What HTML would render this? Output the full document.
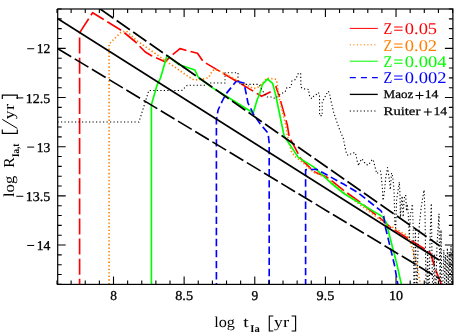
<!DOCTYPE html>
<html><head><meta charset="utf-8"><title>DTD</title>
<style>html,body{margin:0;padding:0;background:#fff;overflow:hidden}svg{display:block;will-change:transform}text{font-family:"Liberation Serif",serif;text-rendering:geometricPrecision}</style>
</head><body>
<svg width="463" height="334" viewBox="0 0 463 334">
<rect x="0" y="0" width="463" height="334" fill="#fff"/>
<defs><clipPath id="c"><rect x="57.7" y="9.0" width="395.2" height="275.4"/></clipPath></defs>
<g clip-path="url(#c)" fill="none" stroke-linejoin="round">
<polyline points="79.6,284.2 79.6,32.8" stroke="#ff0000" stroke-width="1.65" stroke-dasharray="16 4.1" stroke-dashoffset="10.6"/>
<polyline points="79.6,32.8 92.6,12.7 121.8,30.6 135.0,41.5 145.3,52.0 151.5,55.7 156.0,57.7 165.0,61.8 172.2,55.0 180.0,48.6 185.8,50.3 197.5,53.3 203.2,61.5 253.2,91.1" stroke="#ff0000" stroke-width="1.65" stroke-dasharray="16.2 4.15" stroke-dashoffset="19.85"/>
<polyline points="256.8,93.4 261.6,96.3 270.7,91.7" stroke="#ff0000" stroke-width="1.65"/>
<polyline points="275.8,86.0 279.6,97.6 287.3,125.0 289.2,136.7 297.7,152.8 299.6,157.4 309.3,167.1 314.1,171.8 325.7,176.4 332.8,181.6 343.9,190.6 359.0,201.3 380.0,218.0 390.2,227.1 400.0,233.4 424.6,249.0 429.0,251.6 430.6,253.8 435.8,270.2 441.8,285.5" stroke="#ff0000" stroke-width="1.65" stroke-dasharray="16 4.02" stroke-dashoffset="4.3"/>
<polyline points="109.1,284.2 109.1,44.0 121.0,32.3 126.3,31.0 136.7,40.6 146.3,47.3 189.0,77.0 194.0,80.0 203.1,79.1 208.3,77.8 211.5,72.3 214.1,69.4 218.7,70.7 238.3,80.7 253.2,88.5 256.5,88.0 259.0,86.6 262.3,83.5 266.8,78.1 272.6,78.8 276.2,79.4 277.0,82.7 278.6,96.0 285.8,125.0 287.7,136.7 291.2,151.0 294.4,156.0 302.8,162.6 314.0,172.5 325.7,177.5 343.9,192.5 352.6,199.2 390.2,227.1 393.1,227.4 406.1,235.0 409.3,238.8 412.6,249.8 416.5,263.5 421.5,290.0" stroke="#ff8000" stroke-width="1.65" stroke-dasharray="1.3 2.25"/>
<polyline points="151.4,290.0 151.4,104.8 157.0,85.3 160.5,78.0 167.0,55.5 179.3,64.8 194.9,70.0 198.4,77.5 212.2,87.6 226.0,96.0 253.2,113.0 257.1,100.0 259.7,93.7 262.3,84.6 267.5,79.0 272.6,83.3 275.7,95.0 284.1,136.0 298.3,157.4 313.9,167.1 331.0,183.0 343.9,193.5 350.0,197.3 381.7,216.1 386.0,222.0 397.0,264.7 402.6,290.0" stroke="#00ff00" stroke-width="1.65"/>
<polyline points="216.4,284.2 216.4,120.0 218.1,110.0 222.8,100.0 225.8,94.1 236.2,81.3" stroke="#0000ff" stroke-width="1.65" stroke-dasharray="7.4 3.67" stroke-dashoffset="6.3"/>
<polyline points="269.2,284.2 269.2,143.0 268.0,133.0 260.3,124.0 253.2,113.6 248.0,103.0 244.0,83.0 236.2,81.3" stroke="#0000ff" stroke-width="1.65" stroke-dasharray="7.4 3.67" stroke-dashoffset="3.0"/>
<polyline points="305.6,284.2 305.6,169.7 316.5,169.3 323.0,172.8 343.9,184.3 357.0,192.0 381.0,210.8 383.7,216.0 385.4,227.2 394.4,264.7 398.8,290.0" stroke="#0000ff" stroke-width="1.65" stroke-dasharray="7.4 3.67" stroke-dashoffset="2.2"/>
<line x1="57.5" y1="18.5" x2="439" y2="260" stroke="#000" stroke-width="1.65"/>
<line x1="100.2" y1="9.0" x2="439.5" y2="245.7" stroke="#000" stroke-width="1.65" stroke-dasharray="16.1 4.0"/>
<line x1="178.5" y1="63.6" x2="184.5" y2="67.8" stroke="#000" stroke-width="1.65"/>
<line x1="57.5" y1="48.5" x2="439.5" y2="278.8" stroke="#000" stroke-width="1.65" stroke-dasharray="16.0 4.1"/>
<polyline points="57.5,122.0 139.0,122.0 148.8,90.5 181.8,90.5 187.2,85.3 204.4,85.3 209.0,83.0 225.0,83.0 225.0,72.7 238.0,72.7 238.0,81.4 241.0,84.4 259.0,84.4 262.0,90.0 266.8,97.0 272.6,97.0 275.0,98.6 281.0,93.7 284.2,92.4 286.2,90.4 286.8,87.5 290.0,87.5 291.4,84.6 291.8,81.0 294.6,80.0 296.6,78.1 297.0,74.9 298.8,73.2 300.7,73.2 300.7,76.2 301.0,87.2 303.0,88.8 308.9,89.5 308.9,93.7 310.2,97.6 312.1,98.6 314.0,95.6 316.6,94.3 318.0,92.4 319.5,93.7 319.6,115.6 322.2,115.6 322.2,101.5 324.5,98.3 325.8,95.0 328.4,91.2 329.7,94.4 331.0,101.0 333.6,112.0 335.5,118.0 340.0,130.8 343.2,138.0 345.8,151.0 347.0,154.8 349.0,155.4 351.7,153.2 355.3,152.5 356.2,156.0 357.5,162.6 358.8,165.8 359.4,162.6 362.0,158.7 364.0,162.0 366.0,164.5 368.5,165.0 370.4,162.0 372.4,159.3 373.4,160.6 374.7,165.8 376.7,173.6 380.5,171.0 381.2,175.5 382.5,189.8 383.0,200.5 384.4,192.4 385.7,178.0 387.5,167.5 389.0,176.8 390.3,189.8 391.6,173.0 392.8,176.8 394.1,191.0 394.9,226.0 395.7,228.0 396.6,200.0 399.3,182.0 400.0,194.0 400.4,219.0 401.2,205.0 402.2,196.0 403.2,217.0 404.2,198.0 405.7,195.0 406.5,211.0 407.3,204.0 408.2,212.0 409.3,239.0 410.3,215.0 412.5,204.0 413.2,230.0 413.8,284.0 414.6,284.0 415.4,230.0 416.4,284.0 417.2,284.0 418.2,240.0 419.6,222.0 421.5,205.0 424.1,190.0 425.0,215.0 426.0,284.0 427.0,284.0 427.6,250.0 428.3,284.0 429.3,284.0 430.0,240.0 431.3,203.4 431.9,250.0 432.5,284.0 433.5,284.0 434.3,255.0 435.0,284.0 436.0,284.0 437.0,245.0 439.0,213.8 439.6,260.0 440.2,284.0 441.0,230.0 441.8,284.0 443.0,284.0 443.8,250.0 444.6,284.0 445.6,255.0 446.4,284.0 447.4,248.0 448.2,284.0 449.2,252.0 450.0,284.0 451.0,246.0 451.8,284.0 452.6,250.0 453.3,284.0" stroke="#000" stroke-width="1.1" stroke-dasharray="1.2 2.3"/>
</g>
<rect x="57.7" y="9.0" width="395.2" height="275.4" fill="none" stroke="#000" stroke-width="1.2"/>
<path d="M56.99 284.4V280.4M56.99 9.0V13.0M71.12 284.4V280.4M71.12 9.0V13.0M85.25 284.4V280.4M85.25 9.0V13.0M99.37 284.4V280.4M99.37 9.0V13.0M113.50 284.4V276.4M113.50 9.0V17.0M127.63 284.4V280.4M127.63 9.0V13.0M141.75 284.4V280.4M141.75 9.0V13.0M155.88 284.4V280.4M155.88 9.0V13.0M170.01 284.4V280.4M170.01 9.0V13.0M184.13 284.4V276.4M184.13 9.0V17.0M198.26 284.4V280.4M198.26 9.0V13.0M212.39 284.4V280.4M212.39 9.0V13.0M226.52 284.4V280.4M226.52 9.0V13.0M240.64 284.4V280.4M240.64 9.0V13.0M254.77 284.4V276.4M254.77 9.0V17.0M268.90 284.4V280.4M268.90 9.0V13.0M283.02 284.4V280.4M283.02 9.0V13.0M297.15 284.4V280.4M297.15 9.0V13.0M311.28 284.4V280.4M311.28 9.0V13.0M325.41 284.4V276.4M325.41 9.0V17.0M339.53 284.4V280.4M339.53 9.0V13.0M353.66 284.4V280.4M353.66 9.0V13.0M367.79 284.4V280.4M367.79 9.0V13.0M381.91 284.4V280.4M381.91 9.0V13.0M396.04 284.4V276.4M396.04 9.0V17.0M410.17 284.4V280.4M410.17 9.0V13.0M424.29 284.4V280.4M424.29 9.0V13.0M438.42 284.4V280.4M438.42 9.0V13.0M452.55 284.4V280.4M452.55 9.0V13.0M57.7 9.00H61.7M452.9 9.00H448.9M57.7 18.84H61.7M452.9 18.84H448.9M57.7 28.67H61.7M452.9 28.67H448.9M57.7 38.51H61.7M452.9 38.51H448.9M57.7 48.34H65.7M452.9 48.34H444.9M57.7 58.18H61.7M452.9 58.18H448.9M57.7 68.01H61.7M452.9 68.01H448.9M57.7 77.85H61.7M452.9 77.85H448.9M57.7 87.69H61.7M452.9 87.69H448.9M57.7 97.52H65.7M452.9 97.52H444.9M57.7 107.36H61.7M452.9 107.36H448.9M57.7 117.19H61.7M452.9 117.19H448.9M57.7 127.03H61.7M452.9 127.03H448.9M57.7 136.86H61.7M452.9 136.86H448.9M57.7 146.70H65.7M452.9 146.70H444.9M57.7 156.54H61.7M452.9 156.54H448.9M57.7 166.37H61.7M452.9 166.37H448.9M57.7 176.21H61.7M452.9 176.21H448.9M57.7 186.04H61.7M452.9 186.04H448.9M57.7 195.88H65.7M452.9 195.88H444.9M57.7 205.71H61.7M452.9 205.71H448.9M57.7 215.55H61.7M452.9 215.55H448.9M57.7 225.39H61.7M452.9 225.39H448.9M57.7 235.22H61.7M452.9 235.22H448.9M57.7 245.06H65.7M452.9 245.06H444.9M57.7 254.89H61.7M452.9 254.89H448.9M57.7 264.73H61.7M452.9 264.73H448.9M57.7 274.56H61.7M452.9 274.56H448.9M57.7 284.40H61.7M452.9 284.40H448.9" stroke="#000" stroke-width="1.1" fill="none"/>
<text x="110.15" y="300.00" font-size="13.5" fill="#000" stroke="#000" stroke-width="0.3" font-weight="normal" textLength="6.70" lengthAdjust="spacingAndGlyphs">8</text>
<text x="175.23" y="300.00" font-size="13.5" fill="#000" stroke="#000" stroke-width="0.3" font-weight="normal" textLength="17.80" lengthAdjust="spacingAndGlyphs">8.5</text>
<text x="251.42" y="300.00" font-size="13.5" fill="#000" stroke="#000" stroke-width="0.3" font-weight="normal" textLength="6.70" lengthAdjust="spacingAndGlyphs">9</text>
<text x="316.51" y="300.00" font-size="13.5" fill="#000" stroke="#000" stroke-width="0.3" font-weight="normal" textLength="17.80" lengthAdjust="spacingAndGlyphs">9.5</text>
<text x="389.04" y="300.00" font-size="13.5" fill="#000" stroke="#000" stroke-width="0.3" font-weight="normal" textLength="14.00" lengthAdjust="spacingAndGlyphs">10</text>
<text x="36.70" y="53.34" font-size="13.5" fill="#000" stroke="#000" stroke-width="0.3" font-weight="normal" textLength="13.60" lengthAdjust="spacingAndGlyphs">12</text>
<line x1="27.20" y1="48.74" x2="34.20" y2="48.74" stroke="#000" stroke-width="1.0"/>
<text x="25.80" y="102.52" font-size="13.5" fill="#000" stroke="#000" stroke-width="0.3" font-weight="normal" textLength="24.50" lengthAdjust="spacingAndGlyphs">12.5</text>
<line x1="16.30" y1="97.92" x2="23.30" y2="97.92" stroke="#000" stroke-width="1.0"/>
<text x="36.70" y="151.70" font-size="13.5" fill="#000" stroke="#000" stroke-width="0.3" font-weight="normal" textLength="13.60" lengthAdjust="spacingAndGlyphs">13</text>
<line x1="27.20" y1="147.10" x2="34.20" y2="147.10" stroke="#000" stroke-width="1.0"/>
<text x="25.80" y="200.88" font-size="13.5" fill="#000" stroke="#000" stroke-width="0.3" font-weight="normal" textLength="24.50" lengthAdjust="spacingAndGlyphs">13.5</text>
<line x1="16.30" y1="196.28" x2="23.30" y2="196.28" stroke="#000" stroke-width="1.0"/>
<text x="36.70" y="250.06" font-size="13.5" fill="#000" stroke="#000" stroke-width="0.3" font-weight="normal" textLength="13.60" lengthAdjust="spacingAndGlyphs">14</text>
<line x1="27.20" y1="245.46" x2="34.20" y2="245.46" stroke="#000" stroke-width="1.0"/>
<text x="214.20" y="326.80" font-size="15.2" fill="#000" font-weight="normal" textLength="20.80" lengthAdjust="spacingAndGlyphs">log</text>
<text x="243.30" y="326.80" font-size="15.2" fill="#000" font-weight="normal" textLength="5.40" lengthAdjust="spacingAndGlyphs">t</text>
<text x="250.30" y="331.60" font-size="10.2" fill="#000" font-weight="bold" textLength="9.40" lengthAdjust="spacingAndGlyphs">Ia</text>
<path d="M273.30 316.00H269.30V331.00H273.30" fill="none" stroke="#000" stroke-width="1.15"/>
<text x="274.00" y="326.80" font-size="15.2" fill="#000" font-weight="normal" textLength="8.70" lengthAdjust="spacingAndGlyphs">y</text>
<text x="283.10" y="326.80" font-size="15.2" fill="#000" font-weight="normal" textLength="6.20" lengthAdjust="spacingAndGlyphs">r</text>
<path d="M291.60 316.00H295.60V331.00H291.60" fill="none" stroke="#000" stroke-width="1.15"/>
<g transform="translate(13.9 197) rotate(-90)">
<text x="0.00" y="0.00" font-size="15.2" fill="#000" font-weight="normal" textLength="21.20" lengthAdjust="spacingAndGlyphs">log</text>
<text x="29.20" y="0.00" font-size="15.2" fill="#000" font-weight="normal" textLength="10.40" lengthAdjust="spacingAndGlyphs">R</text>
<text x="39.90" y="4.60" font-size="10.2" fill="#000" font-weight="bold" textLength="13.50" lengthAdjust="spacingAndGlyphs">Ia,t</text>
<path d="M67.60 -11.60H63.60V3.40H67.60" fill="none" stroke="#000" stroke-width="1.15"/>
<line x1="68.6" y1="3.4" x2="77.6" y2="-11.6" stroke="#000" stroke-width="1"/>
<text x="77.70" y="0.00" font-size="15.2" fill="#000" font-weight="normal" textLength="8.70" lengthAdjust="spacingAndGlyphs">y</text>
<text x="87.00" y="0.00" font-size="15.2" fill="#000" font-weight="normal" textLength="6.20" lengthAdjust="spacingAndGlyphs">r</text>
<path d="M97.90 -11.60H101.90V3.40H97.90" fill="none" stroke="#000" stroke-width="1.15"/>
</g>
<line x1="349.8" y1="28.4" x2="377.8" y2="28.4" stroke="#ff0000" stroke-width="1"/>
<line x1="349.8" y1="44.8" x2="377.8" y2="44.8" stroke="#ff8000" stroke-width="1" stroke-dasharray="1.2 2.3"/>
<line x1="349.8" y1="61.2" x2="377.8" y2="61.2" stroke="#00ff00" stroke-width="1"/>
<line x1="349.8" y1="77.6" x2="377.8" y2="77.6" stroke="#0000ff" stroke-width="1.1" stroke-dasharray="6 5.1"/>
<line x1="349.8" y1="94.4" x2="377.8" y2="94.4" stroke="#000" stroke-width="1.3"/>
<line x1="349.8" y1="111" x2="377.8" y2="111" stroke="#000" stroke-width="1" stroke-dasharray="1.2 2.3"/>
<text x="383.60" y="34.10" font-size="16.3" fill="#ff0000" font-weight="normal" textLength="8.80" lengthAdjust="spacingAndGlyphs">Z</text>
<text x="393.20" y="34.10" font-size="16.3" fill="#ff0000" font-weight="normal" textLength="10.20" lengthAdjust="spacingAndGlyphs">=</text>
<text x="404.80" y="34.10" font-size="16.3" fill="#ff0000" font-weight="normal" textLength="32.30" lengthAdjust="spacingAndGlyphs">0.05</text>
<text x="383.60" y="50.50" font-size="16.3" fill="#ff8000" font-weight="normal" textLength="8.80" lengthAdjust="spacingAndGlyphs">Z</text>
<text x="393.20" y="50.50" font-size="16.3" fill="#ff8000" font-weight="normal" textLength="10.20" lengthAdjust="spacingAndGlyphs">=</text>
<text x="404.80" y="50.50" font-size="16.3" fill="#ff8000" font-weight="normal" textLength="32.30" lengthAdjust="spacingAndGlyphs">0.02</text>
<text x="383.60" y="66.90" font-size="16.3" fill="#00ff00" font-weight="normal" textLength="8.80" lengthAdjust="spacingAndGlyphs">Z</text>
<text x="393.20" y="66.90" font-size="16.3" fill="#00ff00" font-weight="normal" textLength="10.20" lengthAdjust="spacingAndGlyphs">=</text>
<text x="404.80" y="66.90" font-size="16.3" fill="#00ff00" font-weight="normal" textLength="41.70" lengthAdjust="spacingAndGlyphs">0.004</text>
<text x="383.60" y="83.30" font-size="16.3" fill="#0000ff" font-weight="normal" textLength="8.80" lengthAdjust="spacingAndGlyphs">Z</text>
<text x="393.20" y="83.30" font-size="16.3" fill="#0000ff" font-weight="normal" textLength="10.20" lengthAdjust="spacingAndGlyphs">=</text>
<text x="404.80" y="83.30" font-size="16.3" fill="#0000ff" font-weight="normal" textLength="41.70" lengthAdjust="spacingAndGlyphs">0.002</text>
<text x="383.60" y="98.40" font-size="11.8" fill="#000" stroke="#000" stroke-width="0.25" font-weight="normal" textLength="29.60" lengthAdjust="spacingAndGlyphs">Maoz</text>
<path d="M415.50 95.50H423.50M419.50 91.70V99.30" stroke="#000" stroke-width="1.1" fill="none"/>
<text x="424.70" y="98.40" font-size="11.8" fill="#000" stroke="#000" stroke-width="0.25" font-weight="normal" textLength="13.70" lengthAdjust="spacingAndGlyphs">14</text>
<text x="383.60" y="115.00" font-size="11.8" fill="#000" stroke="#000" stroke-width="0.25" font-weight="normal" textLength="36.70" lengthAdjust="spacingAndGlyphs">Ruiter</text>
<path d="M423.80 112.00H431.80M427.80 108.20V115.80" stroke="#000" stroke-width="1.1" fill="none"/>
<text x="433.50" y="115.00" font-size="11.8" fill="#000" stroke="#000" stroke-width="0.25" font-weight="normal" textLength="13.70" lengthAdjust="spacingAndGlyphs">14</text>
</svg>
</body></html>
